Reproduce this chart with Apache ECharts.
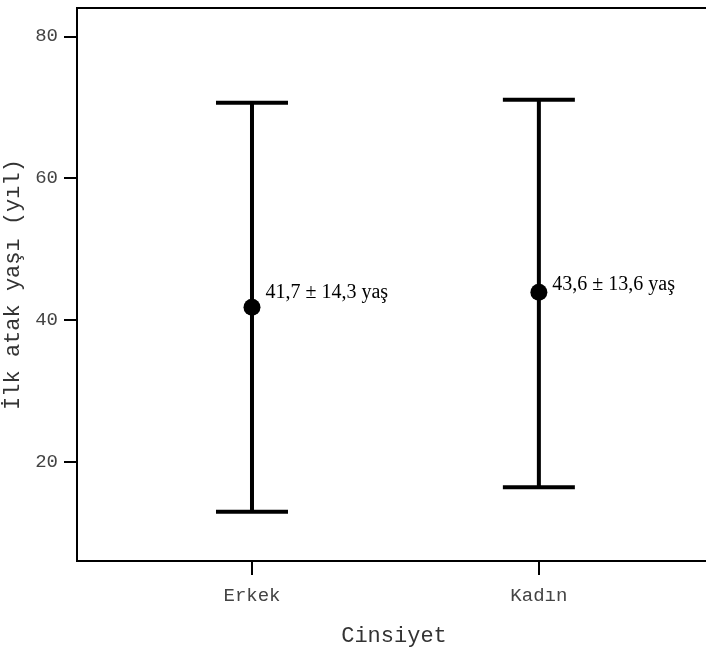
<!DOCTYPE html>
<html><head><meta charset="utf-8">
<script src="https://cdn.jsdelivr.net/npm/echarts@6/dist/echarts.min.js"></script>
<style>html,body{margin:0;padding:0;background:#fff}#c{width:706px;height:653px}</style>
</head><body><div id="c"></div>
<script>
const categories = ['Erkek', 'Kadın'];
const catPos = [1, 2];
const means = [41.8, 43.9];
const lower = [12.95, 16.4];
const upper = [70.65, 71.05];
const meanLabels = ['41,7 ± 14,3 yaş', '43,6 ± 13,6 yaş'];
const yTicks = [20, 40, 60, 80];

const chart = echarts.init(document.getElementById('c'));
const mono = '"Liberation Mono", "Courier New", monospace';
const labelOffsets = [[0, -14], [0, -8]];

chart.setOption({
  animation: false,
  grid: { left: 77, top: 8, width: 634, height: 553, show: true, borderColor: '#000', borderWidth: 2,
          outerBoundsMode: 'none', containLabel: false },
  xAxis: {
    type: 'value', min: 0.39, max: 2.6,
    name: 'Cinsiyet', nameLocation: 'middle', nameGap: 64,
    nameTextStyle: { fontFamily: mono, fontSize: 22, color: '#333' },
    axisLine: { show: true, lineStyle: { color: '#000', width: 2 } },
    axisTick: { show: true, length: 14, lineStyle: { color: '#000', width: 2 }, customValues: catPos },
    axisLabel: { margin: 25, fontFamily: mono, fontSize: 19, color: '#444', customValues: catPos,
      formatter: v => categories[catPos.indexOf(v)] ?? '' },
    splitLine: { show: false }
  },
  yAxis: {
    type: 'value', min: 6, max: 84,
    name: 'İlk atak yaşı (yıl)', nameLocation: 'middle', nameGap: 49, nameRotate: 90,
    nameTextStyle: { fontFamily: mono, fontSize: 22, color: '#333' },
    axisLine: { show: true, lineStyle: { color: '#000', width: 2 } },
    axisTick: { show: true, length: 13, lineStyle: { color: '#000', width: 2 }, customValues: yTicks },
    axisLabel: { margin: 19, fontFamily: mono, fontSize: 19, color: '#444', customValues: yTicks },
    splitLine: { show: false }
  },
  series: [
    {
      type: 'custom',
      data: catPos.map((x, i) => [x, lower[i], upper[i]]),
      renderItem: function (params, api) {
        const x = api.value(0);
        const lo = api.coord([x, api.value(1)]);
        const hi = api.coord([x, api.value(2)]);
        const hw = 36;
        const st = { stroke: '#000', lineWidth: 4, fill: null };
        return { type: 'group', children: [
          { type: 'line', shape: { x1: lo[0], y1: lo[1], x2: hi[0], y2: hi[1] }, style: st },
          { type: 'line', shape: { x1: hi[0] - hw, y1: hi[1], x2: hi[0] + hw, y2: hi[1] }, style: st },
          { type: 'line', shape: { x1: lo[0] - hw, y1: lo[1], x2: lo[0] + hw, y2: lo[1] }, style: st }
        ]};
      },
      z: 2
    },
    {
      type: 'scatter',
      symbol: 'circle', symbolSize: 17,
      itemStyle: { color: '#000', opacity: 1 },
      data: catPos.map((x, i) => ({
        value: [x, means[i]],
        label: { show: true, position: 'right', distance: 5, offset: labelOffsets[i],
          formatter: meanLabels[i], fontFamily: '"Liberation Serif", "Times New Roman", serif',
          fontSize: 20, color: '#000' }
      })),
      z: 3
    }
  ]
});
</script></body></html>
